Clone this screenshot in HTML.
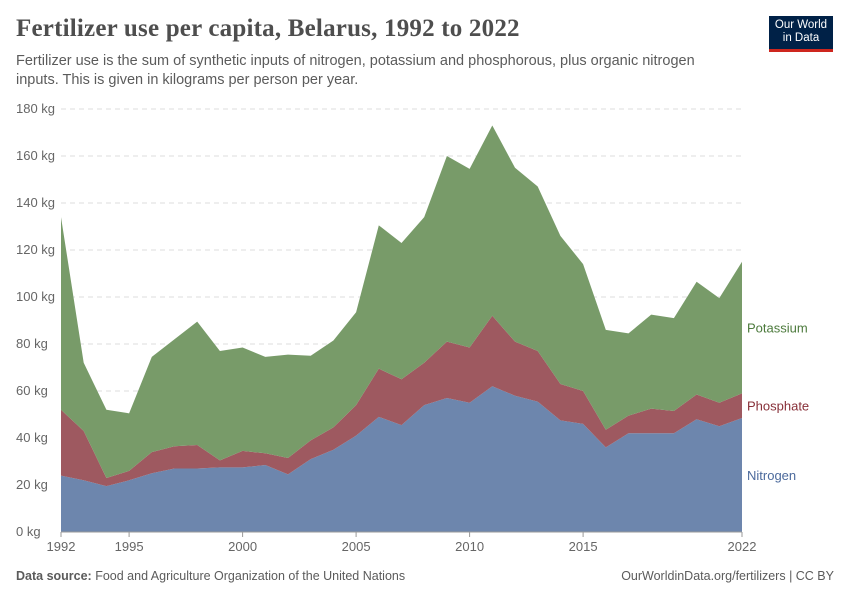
<!DOCTYPE html>
<html><head><meta charset="utf-8"><style>
body{margin:0;background:#fff;font-family:"Liberation Sans",sans-serif;}
#wrap{position:relative;width:850px;height:600px;overflow:hidden}
h1{position:absolute;left:16px;top:15px;margin:0;font-family:"Liberation Serif",serif;font-weight:bold;font-size:25px;color:#4e4e4e;letter-spacing:0.2px}
.sub{position:absolute;left:16px;top:52px;font-size:14.5px;color:#5b5b5b;line-height:19px;width:720px}
.logo{position:absolute;left:769px;top:16px;width:64px;height:36px;background:#002147;color:#fff;font-size:11.5px;text-align:center;line-height:13px;padding-top:3px;box-sizing:border-box;border-bottom:3px solid #ce261e}
.foot{position:absolute;top:569px;font-size:12.5px;color:#5b5b5b}
</style></head><body><div id="wrap">
<h1>Fertilizer use per capita, Belarus, 1992 to 2022</h1>
<div class="sub">Fertilizer use is the sum of synthetic inputs of nitrogen, potassium and phosphorous, plus organic nitrogen inputs. This is given in kilograms per person per year.</div>
<div class="logo">Our World<br>in Data</div>
<div class="foot" style="left:16px"><b>Data source:</b> Food and Agriculture Organization of the United Nations</div>
<div class="foot" style="right:16px">OurWorldinData.org/fertilizers | CC BY</div>
<svg id="svg" width="850" height="600" style="position:absolute;left:0;top:0"></svg>
</div>
<script>
const years=[1992,1993,1994,1995,1996,1997,1998,1999,2000,2001,2002,2003,2004,2005,2006,2007,2008,2009,2010,2011,2012,2013,2014,2015,2016,2017,2018,2019,2020,2021,2022];
const nitrogen=[24,22,19.5,22,25,27,27,27.5,27.5,28.5,24.5,31,35,41,49,45.5,54,57,55,62,58,55.5,47.5,46,36,42,42,42,48,45,48.5];
const phosphate=[28,21,3.5,4,9,9.5,10,3,7,5,7,8,9.5,13,20.5,19.5,18,24,23.5,30,23,21.5,15.5,14,7.5,7.5,10.5,9.5,10.5,10,10.5];
const potassium=[82,29,29,24.5,40.5,45.5,52.5,46.5,44,41,44,36,37,39.5,61,58,62,79,76,81,74,70,63,54,42.5,35,40,39.5,48,44.5,56];
const yTicks=[0,20,40,60,80,100,120,140,160,180];
const xTicks=[1992,1995,2000,2005,2010,2015,2022];
const NS="http://www.w3.org/2000/svg",svg=document.getElementById('svg');
const x=v=>61+(v-1992)*(742-61)/30, y=v=>532-v*(532-109)/180;
function mk(t,a,txt){const e=document.createElementNS(NS,t);for(const k in a)e.setAttribute(k,a[k]);if(txt!=null)e.textContent=txt;svg.appendChild(e);return e;}
yTicks.forEach(t=>{
 const l=mk('line',{x1:61,x2:742,y1:y(t),y2:y(t),stroke:'#ddd','stroke-dasharray':t?'5,4':'',});
 
 
 const tx=mk('text',{x:16,y:y(t)+4,'font-size':13,fill:'#666'},t+' kg');
 
 
});
const series=[['nitrogen',nitrogen,'#6d86ad'],['phosphate',phosphate,'#9e5960'],['potassium',potassium,'#789b69']];
let base=years.map(()=>0);
const tops=[];
series.forEach(([n,vals,c])=>{
 const top=base.map((b,i)=>b+vals[i]);
 let d='M'+years.map((yr,i)=>x(yr)+','+y(top[i])).join('L');
 for(let i=years.length-1;i>=0;i--)d+='L'+x(years[i])+','+y(base[i]);
 const p=mk('path',{d:d+'Z',fill:c});
 
 
 tops.push(top);base=top;
});
mk('line',{x1:61,x2:742,y1:532,y2:532,stroke:'#999'});
xTicks.forEach(t=>{
 mk('line',{x1:x(t),x2:x(t),y1:532,y2:537,stroke:'#999'});
 const tx=mk('text',{x:x(t),y:551,'font-size':13,fill:'#666','text-anchor':'middle'},t);
 
 
});
const L=[['Nitrogen',(0+nitrogen[30])/2,'#4c6a9c'],['Phosphate',(tops[0][30]+tops[1][30])/2,'#883039'],['Potassium',(tops[1][30]+tops[2][30])/2,'#4c7a3c']];
L.forEach(([t,v,c])=>{
 const tx=mk('text',{x:747,y:y(v)+5,'font-size':13,fill:c},t);
 
 
});
</script></body></html>
